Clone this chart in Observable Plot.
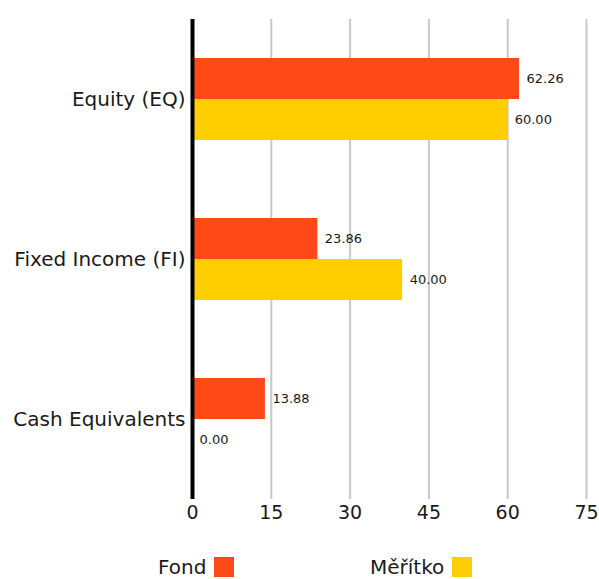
<!DOCTYPE html>
<html>
<head>
<meta charset="utf-8">
<script src="https://cdn.jsdelivr.net/npm/d3@7"></script>
<script src="https://cdn.jsdelivr.net/npm/@observablehq/plot@0.6"></script>
<style>
  html, body { margin: 0; padding: 0; background: #fff; }
  body { width: 599px; height: 579px; overflow: hidden; font-family: "DejaVu Sans", sans-serif; color: #1a1a1a; }
  #legend { position: relative; height: 39px; font-size: 20px; line-height: 22px; }
  .item { position: absolute; top: 16px; display: flex; align-items: center; }
  .sw { width: 20px; height: 20px; margin-left: 8px; }
</style>
</head>
<body>
<div id="chart"></div>
<div id="legend"></div>
<script>
const categories = ["Equity (EQ)", "Fixed Income (FI)", "Cash Equivalents"];
const seriesNames = ["Fond", "Měřítko"];
const fondValues = [62.26, 23.86, 13.88];
const benchmarkValues = [60.00, 40.00, 0.00];
const xTicks = [0, 15, 30, 45, 60, 75];
const colors = ["#FF4A17", "#FFCE00"];

const rows = [];
categories.forEach((c, i) => {
  rows.push({category: c, series: seriesNames[0], value: fondValues[i]});
  rows.push({category: c, series: seriesNames[1], value: benchmarkValues[i]});
});

const plot = Plot.plot({
  width: 599,
  height: 540,
  marginTop: 19,
  marginBottom: 41,
  marginLeft: 192,
  marginRight: 13,
  style: {fontFamily: "DejaVu Sans, sans-serif", color: "#1a1a1a", background: "#fff"},
  x: {domain: [0, 75], ticks: xTicks, label: null, axis: null},
  fy: {domain: categories, padding: 0, label: null, axis: null},
  y: {domain: seriesNames, paddingInner: 0, paddingOuter: 0.95, axis: null},
  color: {domain: seriesNames, range: colors},
  marks: [
    Plot.ruleX(xTicks.filter(d => d > 0), {stroke: "#c8c8c8", strokeWidth: 2}),
    Plot.barX(rows, {fy: "category", y: "series", x: "value", fill: "series", insetTop: 0, insetBottom: 0}),
    Plot.text(rows, {fy: "category", y: "series", x: "value", text: d => d.value.toFixed(2), dx: 7, textAnchor: "start", fontSize: 13, fill: "#1a1a1a"}),
    Plot.ruleX([0], {stroke: "#000", strokeWidth: 4}),
    Plot.axisFy({anchor: "left", tickSize: 0, tickPadding: 7, fontSize: 20, label: null}),
    Plot.axisX({ticks: xTicks, tickSize: 0, tickPadding: 6, fontSize: 19, label: null, facetAnchor: "bottom"})
  ]
});
document.getElementById("chart").appendChild(plot);

const legend = document.getElementById("legend");
const positions = [158, 370];
seriesNames.forEach((s, i) => {
  const it = document.createElement("div");
  it.className = "item";
  it.style.left = positions[i] + "px";
  const t = document.createElement("span");
  t.textContent = s;
  const sw = document.createElement("span");
  sw.className = "sw";
  sw.style.background = colors[i];
  it.appendChild(t);
  it.appendChild(sw);
  legend.appendChild(it);
});
</script>
</body>
</html>
